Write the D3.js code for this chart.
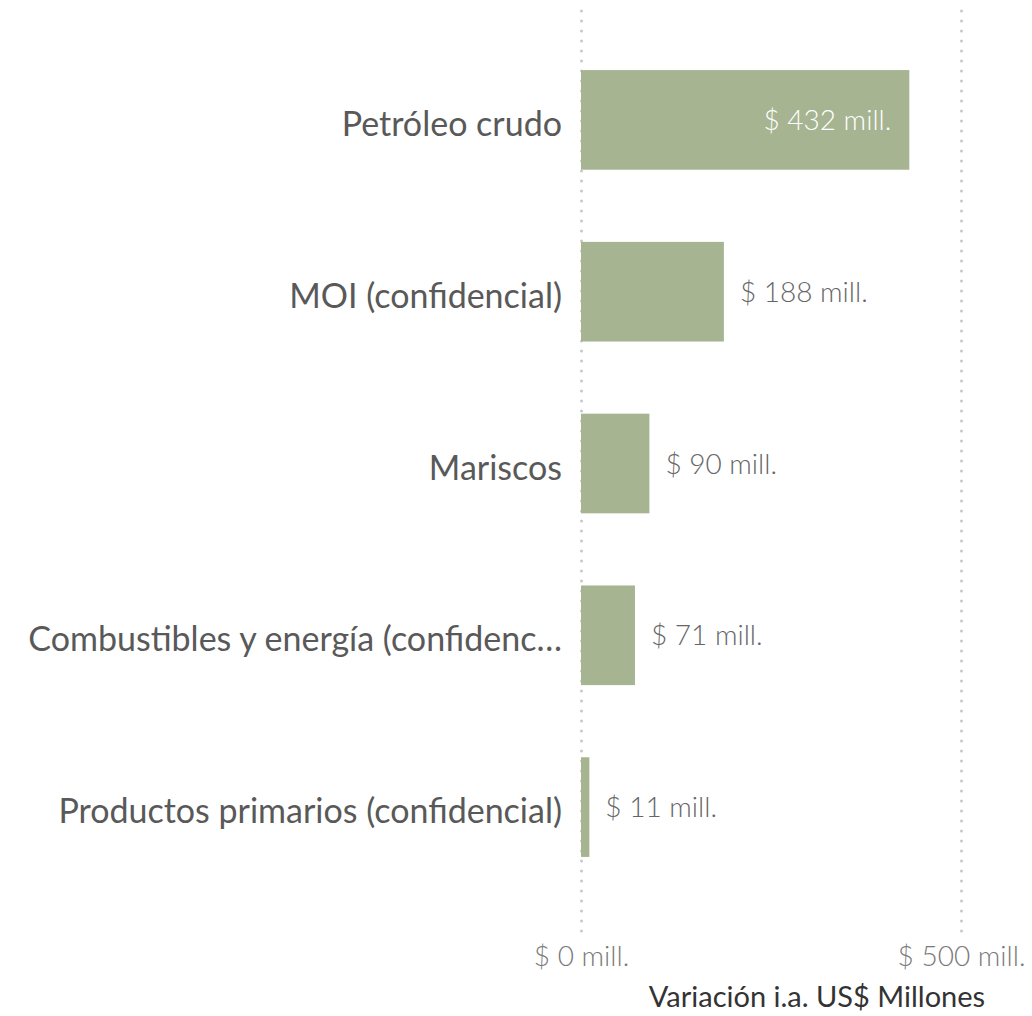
<!DOCTYPE html>
<html>
<head>
<meta charset="utf-8">
<script src="https://cdn.jsdelivr.net/npm/d3@7"></script>
<style>
  body { margin: 0; background: #fff; }
  svg { font-family: Lato, "Open Sans", sans-serif; }
</style>
</head>
<body>
<svg id="chart"></svg>
<script>
const categories = ['Petróleo crudo', 'MOI (confidencial)', 'Mariscos', 'Combustibles y energía (confidencial)', 'Productos primarios (confidencial)'];
const values = [432, 188, 90, 71, 11];
const tickValues = [0, 500];
const axisTitle = 'Variación i.a. US$ Millones';

const width = 1032, height = 1016;
const margin = {top: 34, right: 71, bottom: 123, left: 581};
const labelMaxWidth = 540;

const svg = d3.select('#chart')
    .attr('width', width)
    .attr('height', height);

const x = d3.scaleLinear()
    .domain([0, 500])
    .range([margin.left, width - margin.right]);

const y = d3.scaleBand()
    .domain(categories)
    .range([margin.top, height - margin.bottom])
    .paddingInner(0.42)
    .paddingOuter(0.21);

// dotted gridlines
svg.append('g')
    .selectAll('line')
    .data(tickValues)
    .join('line')
    .attr('x1', d => x(d) + 0.5)
    .attr('x2', d => x(d) + 0.5)
    .attr('y1', 11)
    .attr('y2', 932)
    .attr('stroke', '#c8c8c8')
    .attr('stroke-width', 3)
    .attr('stroke-linecap', 'round')
    .attr('stroke-dasharray', '0,10');

// bars
svg.append('g')
    .selectAll('rect')
    .data(values)
    .join('rect')
    .attr('x', x(0))
    .attr('y', (d, i) => y(categories[i]))
    .attr('width', d => x(d) - x(0))
    .attr('height', y.bandwidth())
    .attr('fill', '#a6b491');

// value labels
svg.append('g')
    .selectAll('text')
    .data(values)
    .join('text')
    .attr('x', d => d > 300 ? x(d) - 18 : x(d) + 16)
    .attr('y', (d, i) => y(categories[i]) + y.bandwidth() / 2 + 10)
    .attr('text-anchor', d => d > 300 ? 'end' : 'start')
    .attr('fill', d => d > 300 ? '#ffffff' : '#666666')
    .style('font-size', '28px')
    .style('font-weight', 300)
    .text(d => `$ ${d} mill.`);

// category labels
const catLabels = svg.append('g')
    .selectAll('text')
    .data(categories)
    .join('text')
    .attr('x', margin.left - 19)
    .attr('y', d => y(d) + y.bandwidth() / 2 + 16)
    .attr('text-anchor', 'end')
    .attr('fill', '#595959')
    .style('font-size', '34px')
    .text(d => d);

// truncate too long labels with an ellipsis
catLabels.each(function(d) {
    const t = d3.select(this);
    if (this.getComputedTextLength() <= labelMaxWidth) return;
    let s = d;
    while (s.length > 1) {
        s = s.slice(0, -1);
        t.text(s + '…');
        if (this.getComputedTextLength() <= labelMaxWidth) break;
    }
});

// x axis labels
const xAxis = d3.axisBottom(x)
    .tickValues(tickValues)
    .tickSize(0)
    .tickFormat(d => `$ ${d} mill.`);

svg.append('g')
    .attr('transform', 'translate(0, 966)')
    .call(xAxis)
    .call(g => g.select('.domain').remove())
    .call(g => g.selectAll('text')
        .attr('y', 0)
        .attr('dy', 0)
        .attr('fill', '#7a7a7a')
        .style('font-size', '28px')
        .style('font-weight', 300)
        .style('font-family', 'Lato, "Open Sans", sans-serif'));

// axis title
svg.append('text')
    .attr('x', 817)
    .attr('y', 1007)
    .attr('text-anchor', 'middle')
    .attr('fill', '#333333')
    .style('font-size', '29px')
    .text(axisTitle);
</script>
</body>
</html>
